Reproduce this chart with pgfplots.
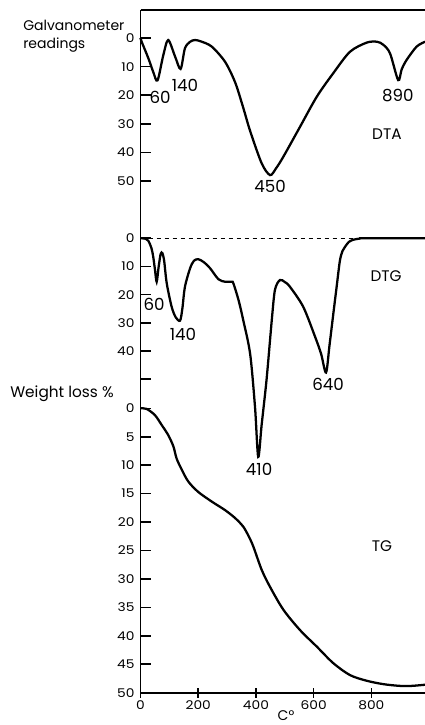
\documentclass[border=0pt]{standalone}
\usepackage{pgfplots}
\pgfplotsset{compat=1.18}
\usepackage{fontspec}
\setmainfont{Poppins}
\newfontfamily\numfont{Poppins}[FakeStretch=1.15]

% shared look of the three stacked thermal curves (DTA, DTG, TG)
\pgfplotsset{
  thermo/.style={
    scale only axis, width=213.375pt, xmin=0, xmax=986,
    y dir=reverse,
    axis y line=left,
    axis line style={-, line width=1.3pt},
    tick align=inside, major tick length=7.5pt,
    tick style={line width=1.2pt, black},
    /pgf/number format/assume math mode=true,
    tick label style={font=\numfont\fontsize{9}{10}\selectfont},
    yticklabel style={xshift=-1pt},
    every axis plot/.append style={line width=1.7pt, smooth, tension=0.5},
    clip=false,
  },
}
\tikzset{
  lbl/.style={font=\fontsize{12.5}{14}\selectfont, inner sep=0pt},
  name/.style={font=\fontsize{11.5}{13}\selectfont, inner sep=0pt},
}

\begin{document}
\begin{tikzpicture}
\path[use as bounding box] (0,0) rectangle (318.75pt,543.75pt);

% ---------- DTA ----------
\begin{axis}[thermo, axis x line=none,
  anchor=south west, at={(105.375pt,375.75pt)}, height=160.5pt,
  ymin=-9.8, ymax=65, ytick={0,10,...,50},
  y axis line style={-}]
\addplot[black] coordinates {
 (0,0) (4,1.3) (27,7) (44,11.8) (59,14.8) (79,6) (96,0.7) (120,6.5)
 (139,10.8) (154,3.6) (172,1.3) (189,0.7) (210,1.2) (247,3) (293,8.3)
 (328,15.5) (355,24) (380,32.5) (420,43.8) (449,47.9) (470,45.5)
 (495,41.5) (553,31) (611,20.5) (668,12.3) (726,4.8) (784,1.6)
 (820,1.3) (842,2.4) (865,5.4) (893,14.7) (905,11) (922,7.7) (957,3)
 (986,1.3)};
\node[lbl] at (axis cs:68,20.6) {60};
\node[lbl] at (axis cs:154,16.4) {140};
\node[lbl] at (axis cs:449,52) {450};
\node[lbl] at (axis cs:892,20) {890};
\node[name] at (axis cs:854,33.6) {DTA};
\end{axis}

% ---------- DTG ----------
\begin{axis}[thermo, axis x line=none,
  anchor=south west, at={(105.375pt,247.5pt)}, height=128.25pt,
  ymin=-5.07, ymax=55.57, ytick={0,10,...,50},
  yticklabels={0,10,20,30,40,{}},
  y axis line style={-}]
\addplot[black, line width=0.8pt, dashed, sharp plot] coordinates {(0,0) (986,0)};
\addplot[black] coordinates {
 (0,0) (15,0.1) (27,0.9) (38,3.5) (44,6.5) (50,11) (56,15.4) (63,10)
 (70,5.5) (76,5.3) (82,8) (91,16) (108,24.3) (122,28) (137,29.2)
 (145,25) (154,17.2) (172,10.6) (185,8) (200,7.4) (220,8.5) (241,10.6)
 (270,14.5) (293,15.4) (316,15.4) (322,16) (340,22) (356,29) (380,41)
 (397,60) (408,77.5) (420,66) (437,50) (455,29) (466,18.3) (483,14.8)
 (500,15.5) (518,17.2) (564,24.3) (605,34.9) (626,41) (643,47.6)
 (655,38) (668,27) (680,17) (691,8) (700,4.5) (709,3) (722,1.3)
 (738,0.5) (760,0.1) (775,0) (986,0)};
\node[lbl] at (axis cs:47,23.3) {60};
\node[lbl] at (axis cs:147,33.9) {140};
\node[lbl] at (axis cs:650,51.7) {640};
\node[lbl] at (axis cs:411,81.8) {410};
\node[name] at (axis cs:851,13.4) {DTG};
\end{axis}

% ---------- TG ----------
\begin{axis}[thermo, axis x line=bottom,
  anchor=south west, at={(105.375pt,24.225pt)}, height=223.275pt,
  ymin=-2.34, ymax=50, ytick={0,5,...,50},
  xtick={0,200,400,600,800},
  x axis line style={-}, y axis line style={-},
  xticklabel style={yshift=1pt}]
\addplot[black] coordinates {
 (0,0) (21,0.1) (50,1.2) (73,2.9) (96,4.7) (114,6.7) (125,8.8)
 (143,10.8) (166,12.9) (200,14.7) (247,16.4) (293,17.9) (328,19.3)
 (356,20.8) (375,22.5) (391,24.3) (420,28.4) (449,31.4) (495,35.4)
 (553,39) (611,41.9) (668,44.8) (726,46.9) (784,47.9) (842,48.5)
 (899,48.8) (940,48.8) (986,48.6)};
\node[name] at (axis cs:837,24.2) {TG};
\end{axis}

% frame line along the top
\draw[line width=1.3pt] (105.375pt,536.25pt) -- (318.75pt,536.25pt);

% axis titles
\node[font=\fontsize{10.5}{12}\selectfont, anchor=base west, inner sep=0pt] at (17.25pt,520.5pt) {Galvanometer};
\node[font=\fontsize{10.5}{12}\selectfont, anchor=base west, inner sep=0pt] at (17.25pt,507pt) {readings};
\node[font=\fontsize{11.5}{13}\selectfont, anchor=base west, inner sep=0pt] at (7.5pt,245.25pt) {Weight loss \%};
\node[font=\fontsize{10.5}{12}\selectfont, anchor=base, inner sep=0pt] at (214.5pt,3.5pt) {C°};
\end{tikzpicture}
\end{document}
